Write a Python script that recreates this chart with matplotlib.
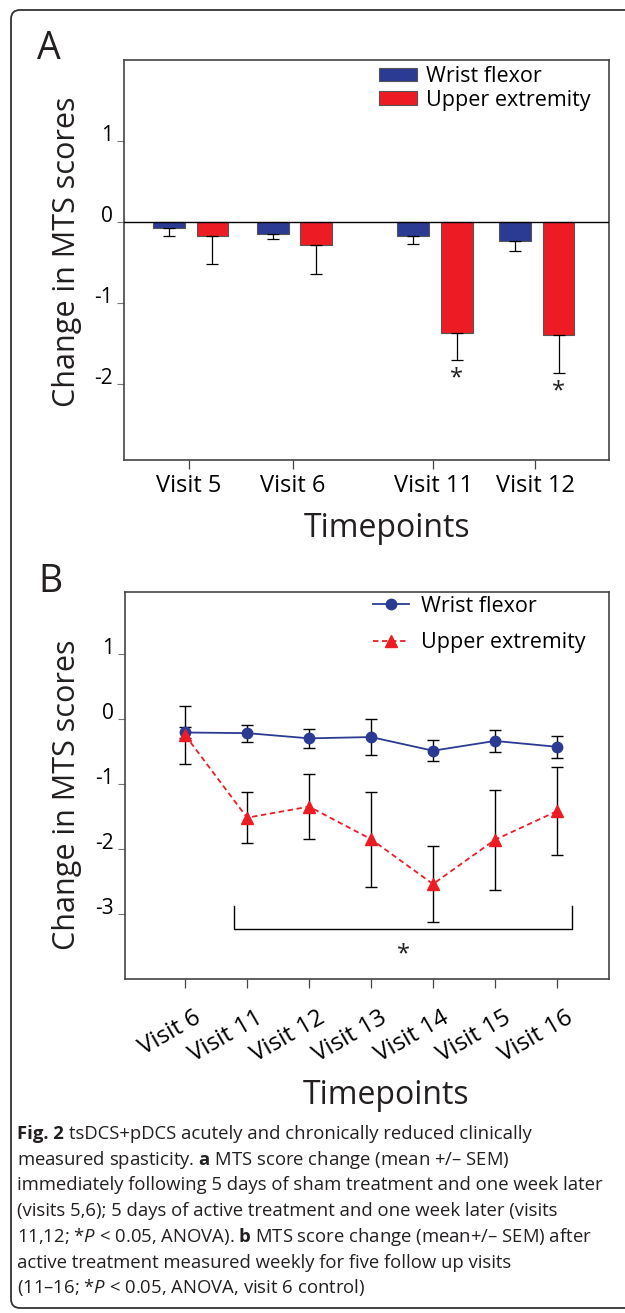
import numpy as np
import matplotlib
matplotlib.use("Agg")
import matplotlib.pyplot as plt
from matplotlib.patches import FancyBboxPatch
from matplotlib.transforms import ScaledTranslation

plt.rcParams['font.family'] = ['Open Sans', 'DejaVu Sans']
plt.rcParams['axes.unicode_minus'] = False
plt.rcParams['mathtext.fontset'] = 'custom'
plt.rcParams['mathtext.rm'] = 'Open Sans'
plt.rcParams['mathtext.bf'] = 'Open Sans:bold'
plt.rcParams['mathtext.it'] = 'Open Sans:italic'

# ---- data, panel A (bars, one-sided SEM) ----
visits_a = ['Visit 5', 'Visit 6', 'Visit 11', 'Visit 12']
wrist_a = [-0.07, -0.15, -0.17, -0.23]
wrist_a_err = [0.10, 0.065, 0.105, 0.13]
upper_a = [-0.17, -0.28, -1.37, -1.40]
upper_a_err = [0.355, 0.36, 0.34, 0.465]
signif_a = [False, False, True, True]

# ---- data, panel B (weekly follow up) ----
visits_b = ['Visit 6', 'Visit 11', 'Visit 12', 'Visit 13', 'Visit 14', 'Visit 15', 'Visit 16']
wrist_b = [-0.21, -0.22, -0.30, -0.28, -0.49, -0.34, -0.43]
wrist_b_err = [0.08, 0.13, 0.15, 0.28, 0.165, 0.175, 0.165]
upper_b = [-0.25, -1.52, -1.35, -1.85, -2.54, -1.86, -1.42]
upper_b_err = [0.45, 0.39, 0.50, 0.73, 0.58, 0.77, 0.68]

yticks_a = [1, 0, -1, -2]
yticks_b = [1, 0, -1, -2, -3]

BLUE = '#2b3a93'
RED = '#ed1c24'
INK = '#231f20'

W, H = 625, 1313
fig = plt.figure(figsize=(W / 100, H / 100), dpi=100)


def px_axes(left, top, right, bottom):
    return fig.add_axes([left / W, 1 - bottom / H, (right - left) / W, (bottom - top) / H])


def style_axes(ax):
    for s in ax.spines.values():
        s.set_color('#444444')
        s.set_linewidth(1.2)
    ax.tick_params(axis='y', length=5, width=0.8, color='#777777', pad=3, labelsize=15)
    ax.tick_params(axis='x', length=6.5, width=0.9, color='#444444', labelsize=17)


# outer rounded frame (right side runs off the page)
frame = FancyBboxPatch((0.11, 0.05), 6.6, 12.98,
                       boxstyle="round,pad=0,rounding_size=0.09",
                       transform=fig.dpi_scale_trans, facecolor='none',
                       edgecolor='#333333', linewidth=1.3)
fig.add_artist(frame)

# ================= panel A =================
axA = px_axes(124, 60, 609, 460)
pos_a = np.array([0, 1, 2.35, 3.33])
bw = 0.305
xw = pos_a - 0.195
xu = pos_a + 0.225
axA.bar(xw, wrist_a, bw, color=BLUE, edgecolor='#555555', linewidth=0.8, zorder=2,
        label='Wrist flexor')
axA.bar(xu, upper_a, bw, color=RED, edgecolor='#555555', linewidth=0.8, zorder=2,
        label='Upper extremity')
zeros = np.zeros(len(visits_a))
axA.errorbar(xw, wrist_a, yerr=[wrist_a_err, zeros], fmt='none', ecolor='black',
             elinewidth=0.9, capsize=4, capthick=0.9, zorder=3)
axA.errorbar(xu, upper_a, yerr=[upper_a_err, zeros], fmt='none', ecolor='black',
             elinewidth=0.9, capsize=4, capthick=0.9, zorder=3)
for x, v, e, s in zip(xu, upper_a, upper_a_err, signif_a):
    if s:
        axA.text(x, v - e - 0.08, '*', ha='center', va='top', fontsize=17, color=INK)
axA.axhline(0, color='black', linewidth=1.0, zorder=4)
axA.set_xlim(-0.625, 4.04)
axA.set_ylim(-2.94, 2.0)
axA.set_xticks(pos_a, visits_a)
axA.set_yticks(yticks_a, [str(t) for t in yticks_a], va='baseline')
style_axes(axA)
axA.legend(loc='upper left', bbox_to_anchor=(0.526, 0.985), frameon=False,
           fontsize=15.5, handlelength=1.75, handleheight=0.6, handletextpad=0.45,
           labelspacing=0.12, borderpad=0, borderaxespad=0)

fig.text(37 / W, 1 - 59 / H, 'A', fontsize=27, color=INK, va='baseline', ha='left')
fig.text(67 / W, 1 - 252 / H, 'Change in MTS scores', rotation=90, fontsize=22,
         color=INK, ha='center', va='center')
fig.text(387 / W, 1 - 537 / H, 'Timepoints', fontsize=23, color=INK,
         ha='center', va='baseline')

# ================= panel B =================
axB = px_axes(125, 592, 609, 979)
xb = np.arange(len(visits_b))
axB.errorbar(xb, wrist_b, yerr=wrist_b_err, fmt='none', ecolor='black',
             elinewidth=1.0, capsize=4, capthick=1.0, zorder=2)
axB.errorbar(xb, upper_b, yerr=upper_b_err, fmt='none', ecolor='black',
             elinewidth=1.0, capsize=4, capthick=1.0, zorder=2)
axB.plot(xb, wrist_b, color=BLUE, linewidth=1.3, marker='o', markersize=7.5,
         zorder=3, label='Wrist flexor')
axB.plot(xb, upper_b, color=RED, linewidth=1.3, linestyle=(0, (3, 2)), marker='^',
         markersize=9, zorder=4, label='Upper extremity')

# significance bracket over visits 11-16
bx0, bx1, by_top, by_bot = 0.79, 6.25, -2.88, -3.23
axB.plot([bx0, bx0, bx1, bx1], [by_top, by_bot, by_bot, by_top], color='black',
         linewidth=1.0, zorder=2)
axB.text((bx0 + bx1) / 2, -3.62, '*', ha='center', va='center', fontsize=17, color=INK)

axB.set_xlim(-0.97, 6.84)
axB.set_ylim(-4.0, 1.95)
axB.set_xticks(xb, visits_b)
axB.set_yticks(yticks_b, [str(t) for t in yticks_b], va='baseline')
style_axes(axB)
axB.tick_params(axis='x', pad=13, labelsize=17.5)
for lbl in axB.get_xticklabels():
    lbl.set_rotation(30)
    lbl.set_ha('right')
    lbl.set_va('top')
    lbl.set_rotation_mode('anchor')
    lbl.set_transform(lbl.get_transform() + ScaledTranslation(0.08, 0, fig.dpi_scale_trans))
axB.legend(loc='upper left', bbox_to_anchor=(0.512, 0.99), frameon=False,
           fontsize=15.5, handlelength=1.7, handletextpad=0.55,
           labelspacing=0.72, borderpad=0, borderaxespad=0)

fig.text(38 / W, 1 - 592 / H, 'B', fontsize=27, color=INK, va='baseline', ha='left')
fig.text(67 / W, 1 - 795 / H, 'Change in MTS scores', rotation=90, fontsize=22,
         color=INK, ha='center', va='center')
fig.text(386 / W, 1 - 1104 / H, 'Timepoints', fontsize=23, color=INK,
         ha='center', va='baseline')

# ================= caption =================
caption = [
    r'tsDCS+pDCS acutely and chronically reduced clinically',
    r'measured spasticity. $\mathbf{a}$ MTS score change (mean +/– SEM)',
    r'immediately following 5 days of sham treatment and one week later',
    r'(visits 5,6); 5 days of active treatment and one week later (visits',
    r'11,12; *$\mathit{P}$ < 0.05, ANOVA). $\mathbf{b}$ MTS score change (mean+/– SEM) after',
    r'active treatment measured weekly for five follow up visits',
    r'(11–16; *$\mathit{P}$ < 0.05, ANOVA, visit 6 control)',
]
cap_size = 13.3
base = 1139
x0 = 17
renderer = fig.canvas.get_renderer()


def text_width(s, **kw):
    t = fig.text(0, 0, s, fontsize=cap_size, **kw)
    w = t.get_window_extent(renderer).width
    t.remove()
    return w


space_w = text_width('a a') - text_width('aa')
fig_label = fig.text(x0 / W, 1 - base / H, 'Fig. 2', fontsize=cap_size, fontweight='bold',
                     color=INK, ha='left', va='baseline')
lead = fig_label.get_window_extent(renderer).width + space_w
for i, line in enumerate(caption):
    xs = x0 + (lead if i == 0 else 0)
    fig.text(xs / W, 1 - (base + i * 25.7) / H, line, fontsize=cap_size, color=INK,
             ha='left', va='baseline')

fig.savefig('out.png', dpi=100)
